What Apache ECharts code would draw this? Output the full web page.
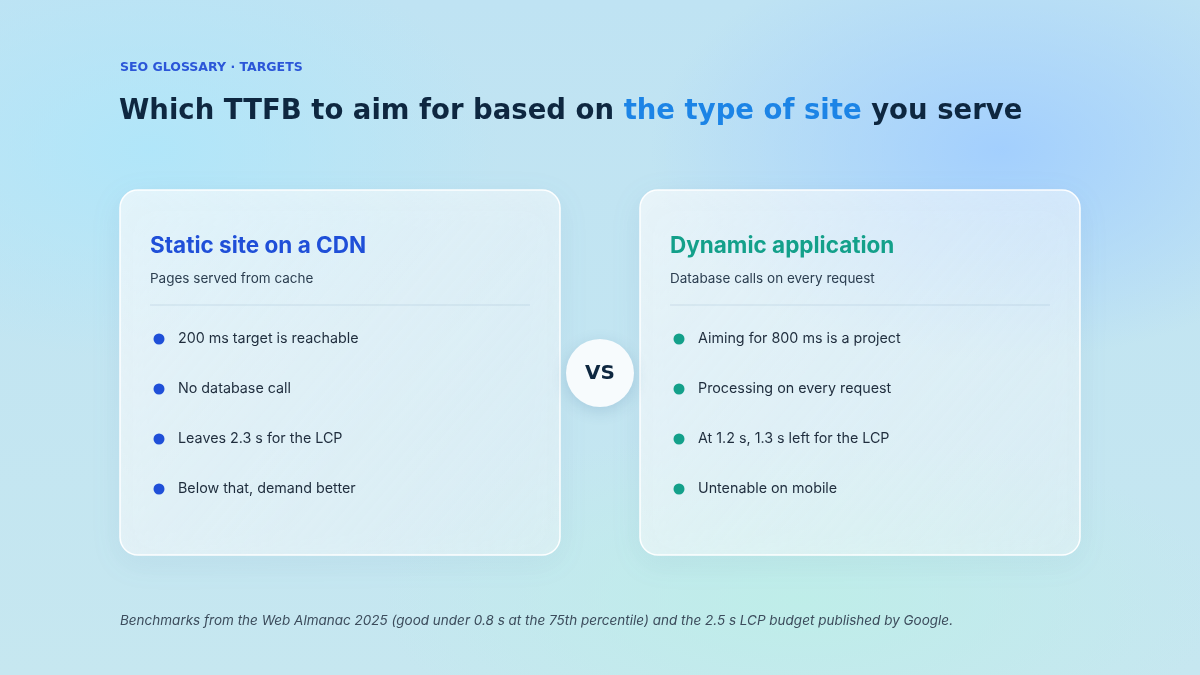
<!DOCTYPE html>
<html><head><meta charset="utf-8">
<script src="https://cdn.jsdelivr.net/npm/echarts@6/dist/echarts.min.js"></script>
<style>
html,body{margin:0;padding:0;width:1200px;height:675px;overflow:hidden;}
body{background:
radial-gradient(ellipse 500px 300px at 1000px 150px, rgba(160,205,255,0.9), rgba(160,205,255,0) 70%),
radial-gradient(ellipse 500px 300px at 150px 150px, rgba(175,230,250,0.9), rgba(175,230,250,0) 70%),
radial-gradient(ellipse 600px 250px at 800px 600px, rgba(190,238,232,0.9), rgba(190,238,232,0) 70%),
linear-gradient(180deg,#bfe3f3,#c6e7f0);}
#c{width:1200px;height:675px;}
</style></head><body><div id="c"></div>
<script>
const eyebrow = "SEO GLOSSARY · TARGETS";
const titleParts = ["Which TTFB to aim for based on ", "the type of site", " you serve"];
const cardTitles = ["Static site on a CDN", "Dynamic application"];
const cardSubtitles = ["Pages served from cache", "Database calls on every request"];
const leftBullets = ["200 ms target is reachable", "No database call", "Leaves 2.3 s for the LCP", "Below that, demand better"];
const rightBullets = ["Aiming for 800 ms is a project", "Processing on every request", "At 1.2 s, 1.3 s left for the LCP", "Untenable on mobile"];
const footnote = "Benchmarks from the Web Almanac 2025 (good under 0.8 s at the 75th percentile) and the 2.5 s LCP budget published by Google.";
const accent = ["#1f4fd8", "#13a08a"];

const chart = echarts.init(document.getElementById('c'));
const g = [];
g.push({type:'text',left:120,top:61,style:{text:eyebrow,fill:'#2b56d8',font:'bold 12.5px "DejaVu Sans"',letterSpacing:2.6}});
g.push({type:'text',left:119,top:98,style:{text:'{a|'+titleParts[0]+'}{b|'+titleParts[1]+'}{a|'+titleParts[2]+'}',
  rich:{a:{fill:'#0e2740',font:'bold 27.5px "DejaVu Sans"',letterSpacing:-1},b:{fill:'#1c84e6',font:'bold 27.5px "DejaVu Sans"',letterSpacing:-1}}}});
[0,1].forEach(i=>{
  const x = i===0?120:640;
  g.push({type:'rect',shape:{x:x,y:190,width:440,height:365,r:18},
    style:{fill:{type:'linear',x:0,y:0,x2:1,y2:1,colorStops:[{offset:0,color:'rgba(255,255,255,0.65)'},{offset:1,color:'rgba(255,255,255,0.4)'}]},stroke:'rgba(255,255,255,0.95)',lineWidth:1.5,
    shadowBlur:30,shadowColor:'rgba(60,120,170,0.12)',shadowOffsetY:8}});
  g.push({type:'text',x:x+30,y:235,style:{text:cardTitles[i],fill:accent[i],font:'bold 22.5px Inter'}});
  g.push({type:'text',x:x+30,y:272,style:{text:cardSubtitles[i],fill:'#2c3e50',font:'13.5px Inter'}});
  g.push({type:'line',shape:{x1:x+30,y1:305,x2:x+410,y2:305},style:{stroke:'rgba(150,180,200,0.35)',lineWidth:1}});
  const b = i===0?leftBullets:rightBullets;
  b.forEach((t,k)=>{
    const y = 339+k*50;
    g.push({type:'circle',shape:{cx:x+39,cy:y,r:5.5},style:{fill:accent[i]}});
    g.push({type:'text',x:x+58,y:y,style:{text:t,fill:'#1f2d3d',font:'14.3px Inter',verticalAlign:'middle'}});
  });
});
g.push({type:'circle',shape:{cx:600,cy:373,r:34},style:{fill:'#f7fbfd',shadowBlur:16,shadowColor:'rgba(40,90,140,0.18)',shadowOffsetY:4}});
g.push({type:'text',x:600,y:374,style:{text:'VS',fill:'#0e2740',font:'bold 20px "DejaVu Sans"',align:'center',verticalAlign:'middle'}});
g.push({type:'text',x:120,y:621,style:{text:footnote,fill:'#3c4c5c',font:'italic 13.5px Inter',verticalAlign:'middle'}});
chart.setOption({graphic:g});
</script></body></html>
